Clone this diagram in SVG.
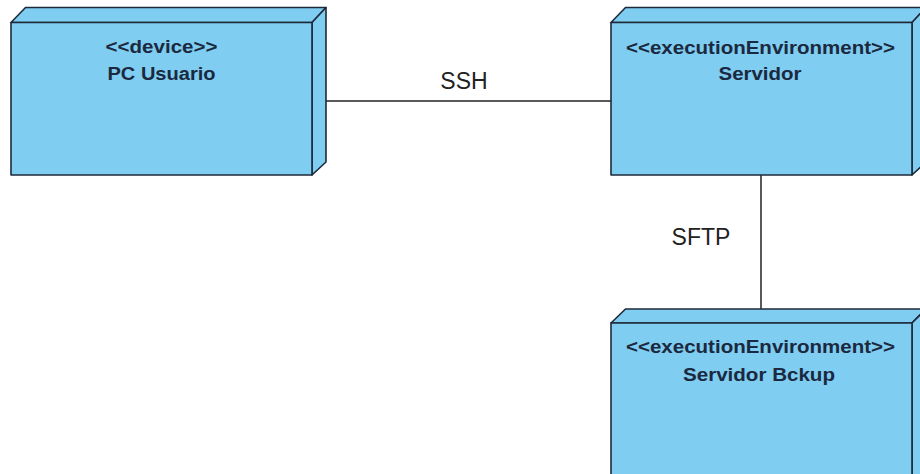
<svg xmlns="http://www.w3.org/2000/svg" width="920" height="474" viewBox="0 0 920 474">
<style>
.face{fill:#7fcdf1;stroke:#1e2a3a;stroke-width:1.6;stroke-linejoin:round}
.st{font-family:"Liberation Sans",Arial,sans-serif;font-weight:bold;font-size:18px;fill:#1b2940;text-anchor:middle}
.lbl{font-family:"Liberation Sans",Arial,sans-serif;font-size:23px;fill:#222;text-anchor:middle}
.conn{stroke:#222;stroke-width:1.5;fill:none}
</style>
<rect width="920" height="474" fill="#fff"/>
<g id="connectors">
<line class="conn" x1="313" y1="101" x2="611" y2="101"/>
<line class="conn" x1="761" y1="175" x2="761" y2="309"/>
<text class="lbl" x="464" y="89">SSH</text>
<text class="lbl" x="701" y="245">SFTP</text>
</g>
<g id="pc-usuario">
<polygon class="face" points="11,22.5 25.5,7.5 326,7.5 312,22.5"/>
<polygon class="face" points="312,22.5 326,7.5 326,162 312,175"/>
<rect class="face" x="11" y="22.5" width="301" height="152.5"/>
<text class="st" x="161.5" y="52.5" textLength="112" lengthAdjust="spacingAndGlyphs">&lt;&lt;device&gt;&gt;</text>
<text class="st" x="161.5" y="80" textLength="108" lengthAdjust="spacingAndGlyphs">PC Usuario</text>
</g>
<g id="servidor">
<polygon class="face" points="611,22.5 625.5,7.5 926,7.5 912,22.5"/>
<polygon class="face" points="912,22.5 926,7.5 926,162 912,175"/>
<rect class="face" x="611" y="22.5" width="301" height="152.5"/>
<text class="st" x="760.5" y="54" textLength="269" lengthAdjust="spacingAndGlyphs">&lt;&lt;executionEnvironment&gt;&gt;</text>
<text class="st" x="760" y="80" textLength="83" lengthAdjust="spacingAndGlyphs">Servidor</text>
</g>
<g id="servidor-bckup">
<polygon class="face" points="611,323 625.5,309 926,309 912,323"/>
<polygon class="face" points="912,323 926,309 926,480 912,480"/>
<rect class="face" x="611" y="323" width="301" height="160"/>
<text class="st" x="760.5" y="353" textLength="269" lengthAdjust="spacingAndGlyphs">&lt;&lt;executionEnvironment&gt;&gt;</text>
<text class="st" x="759" y="381" textLength="152" lengthAdjust="spacingAndGlyphs">Servidor Bckup</text>
</g>
</svg>
